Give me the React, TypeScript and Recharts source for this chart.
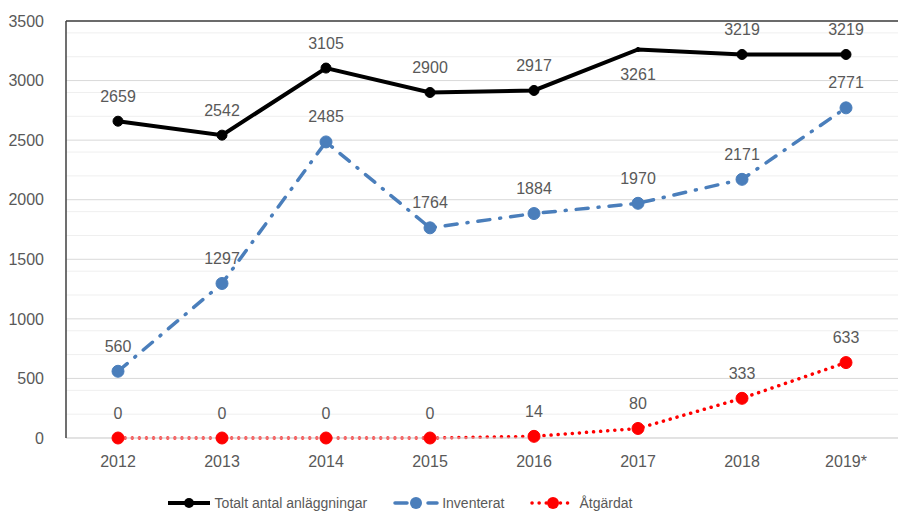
import { LineChart, Line, XAxis, YAxis, CartesianGrid, Legend, ReferenceLine } from "recharts";

const years = ["2012", "2013", "2014", "2015", "2016", "2017", "2018", "2019*"];
const totalt = [2659, 2542, 3105, 2900, 2917, 3261, 3219, 3219];
const inventerat = [560, 1297, 2485, 1764, 1884, 1970, 2171, 2771];
const atgardat = [0, 0, 0, 0, 14, 80, 333, 633];

const yTicks = [0, 500, 1000, 1500, 2000, 2500, 3000, 3500];
const minorTicks = [
  100, 200, 300, 400, 600, 700, 800, 900, 1100, 1200, 1300, 1400, 1600, 1700, 1800, 1900,
  2100, 2200, 2300, 2400, 2600, 2700, 2800, 2900, 3100, 3200, 3300, 3400,
];

const data = years.map((year, i) => ({
  year,
  totalt: totalt[i],
  inventerat: inventerat[i],
  atgardat: atgardat[i],
}));

const FONT = "'Liberation Sans', Arial, sans-serif";
const TEXT = "#595959";
const BLUE = "#4a7ebb";

const makeLabel = (below: number[]) => (props: any) => {
  const { x, y, value, index } = props;
  const isBelow = below.includes(index);
  return (
    <text
      x={x}
      y={isBelow ? y + 25 : y - 25}
      textAnchor="middle"
      dominantBaseline="central"
      fill={TEXT}
      fontSize={16}
      fontFamily={FONT}
    >
      {value}
    </text>
  );
};

const legendItems = [
  { label: "Totalt antal anläggningar", color: "#000", dash: undefined, width: 4, r: 5 },
  { label: "Inventerat", color: BLUE, dash: "12 10 1 10", width: 3.5, r: 6 },
  { label: "Åtgärdat", color: "#ff0000", dash: "0.1 7", width: 3.5, r: 6 },
];

const renderLegend = () => (
  <div
    style={{
      display: "flex",
      justifyContent: "center",
      gap: 26,
      paddingTop: 22,
      paddingRight: 100,
      fontFamily: FONT,
      fontSize: 14,
      color: TEXT,
    }}
  >
    {legendItems.map((it) => (
      <div key={it.label} style={{ display: "flex", alignItems: "center" }}>
        <svg width={46} height={16} style={{ marginRight: 3 }}>
          <line
            x1={2}
            y1={8}
            x2={44}
            y2={8}
            stroke={it.color}
            strokeWidth={it.width}
            strokeDasharray={it.dash}
            strokeLinecap={it.dash ? "round" : "butt"}
          />
          <circle cx={23} cy={8} r={it.r} fill={it.color} />
        </svg>
        <span>{it.label}</span>
      </div>
    ))}
  </div>
);

const SmallDotAt = (skip: number, r: number, color: string) => (props: any) => {
  const { cx, cy, index } = props;
  return <circle key={index} cx={cx} cy={cy} r={index === skip ? 2 : r} fill={color} stroke={color} />;
};

export default function App() {
  return (
    <div style={{ width: 898, height: 513, background: "#fff" }}>
      <style>{`body{margin:0}`}</style>
      <LineChart width={898} height={513} data={data} margin={{ top: 21, right: 0, left: 0, bottom: 0 }}>
        <CartesianGrid vertical={false} horizontalValues={minorTicks} stroke="#efefef" />
        <CartesianGrid vertical={false} horizontalValues={yTicks} stroke="#d9d9d9" />
        <XAxis
          dataKey="year"
          tickLine={false}
          axisLine={{ stroke: "#d9d9d9" }}
          tickMargin={12}
          height={35}
          padding={{ left: 52, right: 52 }}
          tick={{ fill: TEXT, fontSize: 16, fontFamily: FONT }}
        />
        <YAxis
          domain={[0, 3500]}
          ticks={yTicks}
          width={66}
          tickLine={false}
          axisLine={{ stroke: "#404040", strokeWidth: 1.5 }}
          tickMargin={16}
          tick={{ fill: TEXT, fontSize: 16, fontFamily: FONT }}
        />
        <ReferenceLine y={3500} stroke="#404040" strokeWidth={1.5} />
        <Legend verticalAlign="bottom" height={40} content={renderLegend} />
        <Line
          dataKey="atgardat"
          name="Åtgärdat"
          stroke="#ff0000"
          strokeWidth={3.5}
          strokeDasharray="0.1 7"
          strokeLinecap="round"
          dot={SmallDotAt(-1, 6, "#ff0000")}
          label={makeLabel([])}
          isAnimationActive={false}
        />
        <Line
          dataKey="inventerat"
          name="Inventerat"
          stroke={BLUE}
          strokeWidth={3.5}
          strokeDasharray="12 10 1 10"
          strokeLinecap="round"
          dot={SmallDotAt(-1, 6, BLUE)}
          label={makeLabel([])}
          isAnimationActive={false}
        />
        <Line
          dataKey="totalt"
          name="Totalt antal anläggningar"
          stroke="#000"
          strokeWidth={4}
          dot={SmallDotAt(5, 5, "#000")}
          label={makeLabel([5])}
          isAnimationActive={false}
        />
      </LineChart>
    </div>
  );
}
